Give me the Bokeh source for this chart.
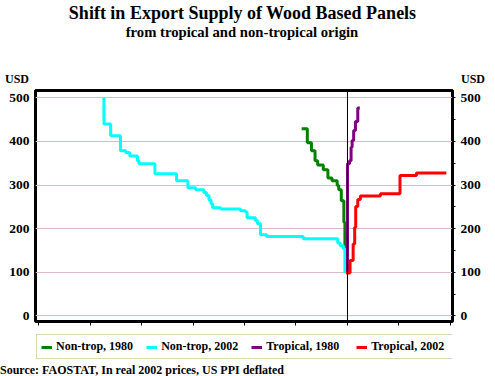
from bokeh.plotting import figure
from bokeh.models import (Range1d, LinearAxis, Span, Legend, LegendItem, FixedTicker, Div)
from bokeh.layouts import column
from bokeh.embed import file_html
from bokeh.resources import INLINE

# ---- data (quantity steps, USD price levels) ----
nontrop1980_x = [-0.89, -0.78, -0.70, -0.63, -0.58, -0.47, -0.38, -0.30, -0.20, -0.17, -0.12, -0.07, -0.05, -0.03]
nontrop1980_y = [429, 397, 379, 356, 346, 335, 316, 310, 299, 289, 264, 215, 160, 100]

nontrop2002_x = [-4.73, -4.73, -4.60, -4.41, -4.31, -4.23, -4.08, -4.05, -3.74, -3.32, -3.10, -2.95,
                 -2.79, -2.74, -2.69, -2.65, -2.62, -2.46, -2.08, -1.98, -1.95, -1.79, -1.75, -1.69,
                 -1.57, -0.86, -0.19, -0.14, -0.08, -0.05]
nontrop2002_y = [500, 440, 413, 379, 375, 367, 356, 349, 326, 310, 294, 289,
                 283, 276, 266, 257, 248, 245, 241, 238, 225, 219, 211, 186,
                 182, 177, 167, 161, 154, 98]

trop1980_x = [0.0, 0.0, 0.04, 0.07, 0.09, 0.12, 0.155, 0.20, 0.24]
trop1980_y = [100, 349, 356, 387, 402, 425, 446, 477, 477]

trop2002_x = [-0.03, 0.05, 0.11, 0.14, 0.16, 0.20, 0.25, 0.64, 1.02, 1.34, 1.92]
trop2002_y = [98, 127, 165, 203, 251, 267, 275, 280, 322, 328, 328]

series_names = ["Non-trop, 1980", "Non-trop, 2002", "Tropical, 1980", "Tropical, 2002"]
series_colors = ["#008000", "#00FFFF", "#800080", "#FF0000"]
series_x = [nontrop1980_x, nontrop2002_x, trop1980_x, trop2002_x]
series_y = [nontrop1980_y, nontrop2002_y, trop1980_y, trop2002_y]

title_text = "Shift in Export Supply of Wood Based Panels"
subtitle_text = "from tropical and non-tropical origin"
unit_text = "USD"
source_text = "Source: FAOSTAT, In real 2002 prices, US PPI deflated"

y_ticks = [0, 100, 200, 300, 400, 500]
x_ticks = [-6, -5, -4, -3, -2, -1, 0, 1, 2]

FONT = "Liberation Serif"
W = 495
BASE = ("position:absolute; white-space:nowrap; line-height:1; margin:0; padding:0; "
        "font-family:'Liberation Serif', serif; font-weight:bold; color:#000;")

# ---- header (title, subtitle, unit labels) ----
head_html = (
    f"<div style='position:relative; width:{W}px; height:86px; margin:0; padding:0;'>"
    f"<div style=\"{BASE} left:0; width:485px; text-align:center; top:4px; font-size:18px;\">{title_text}</div>"
    f"<div style=\"{BASE} left:0; width:484px; text-align:center; top:25px; font-size:14.7px;\">{subtitle_text}</div>"
    f"<div style=\"{BASE} left:5px; top:73px; font-size:12px;\">{unit_text}</div>"
    f"<div style=\"{BASE} left:461px; top:73px; font-size:12px;\">{unit_text}</div>"
    "</div>")
head = Div(text=head_html, width=W, height=86, margin=0)

# ---- main chart ----
p = figure(width=W, height=242, output_backend="svg", toolbar_location=None,
           x_range=Range1d(-6.06, 2.04), y_range=Range1d(-13, 517),
           min_border_left=35, min_border_right=43, min_border_top=4, min_border_bottom=7)
p.outline_line_color = "black"
p.outline_line_width = 3
p.background_fill_color = "white"
p.border_fill_color = "white"

p.xaxis.ticker = FixedTicker(ticks=x_ticks)
p.xaxis.major_label_overrides = {t: "" for t in x_ticks}
p.xaxis.major_tick_out = 4
p.xaxis.major_tick_in = 0
p.xaxis.minor_tick_out = 0
p.xaxis.axis_line_color = None
p.xaxis.major_tick_line_color = "black"
p.xaxis.major_tick_line_width = 1
p.xaxis.major_label_standoff = 0

p.yaxis.ticker = FixedTicker(ticks=y_ticks)
p.yaxis.major_tick_out = 0
p.yaxis.major_tick_in = 0
p.yaxis.minor_tick_out = 0
p.yaxis.axis_line_color = None
p.yaxis.major_label_standoff = 6
p.yaxis.major_label_text_font = FONT
p.yaxis.major_label_text_font_style = "bold"
p.yaxis.major_label_text_font_size = "13.5px"
p.yaxis.major_label_text_color = "black"

ry = LinearAxis(ticker=FixedTicker(ticks=y_ticks, minor_ticks=[50, 150, 250, 350, 450]))
ry.major_tick_out = 3
ry.major_tick_in = 0
ry.minor_tick_out = 3
ry.minor_tick_in = 0
ry.axis_line_color = None
ry.major_label_standoff = 5
ry.major_label_text_font = FONT
ry.major_label_text_font_style = "bold"
ry.major_label_text_font_size = "13.5px"
ry.major_label_text_color = "black"
p.add_layout(ry, "right")

p.xgrid.grid_line_color = None
p.ygrid.ticker = FixedTicker(ticks=y_ticks)
p.ygrid.grid_line_color = "#DDB9C6"
p.ygrid.grid_line_width = 1

p.add_layout(Span(location=0, dimension="height", line_color="black", line_width=1))

for xs, ys, c in zip(series_x, series_y, series_colors):
    p.step(xs, ys, mode="after", line_color=c, line_width=3)

# ---- legend strip ----
leg = figure(width=W, height=36, output_backend="svg", toolbar_location=None,
             x_axis_location=None, y_axis_location=None,
             x_range=Range1d(0, 1), y_range=Range1d(0, 1),
             min_border_left=35, min_border_right=43, min_border_top=0, min_border_bottom=0)
leg.grid.visible = False
leg.outline_line_color = None
leg.background_fill_color = "white"
leg.border_fill_color = "white"
# key renderers use the same series; the strip's ranges keep them out of view
key_renderers = [leg.step(xs, ys, mode="after", line_color=c, line_width=3)
                 for xs, ys, c in zip(series_x, series_y, series_colors)]
legend = Legend(items=[LegendItem(label=n, renderers=[r]) for n, r in zip(series_names, key_renderers)],
                orientation="horizontal", location=(1, 5),
                label_text_font=FONT, label_text_font_style="bold", label_text_font_size="12px",
                label_text_color="black",
                glyph_width=11, glyph_height=10, label_standoff=4, label_width=77, spacing=13,
                padding=4, margin=0, label_height=12,
                border_line_color="#A8BC5C", border_line_width=1.5,
                background_fill_color="white", background_fill_alpha=1)
leg.add_layout(legend, "center")

# ---- source note ----
foot_html = (f"<div style='position:relative; width:{W}px; height:12px; margin:0; padding:0;'>"
             f"<div style=\"{BASE} left:0; top:0; font-size:12px;\">{source_text}</div></div>")
foot = Div(text=foot_html, width=W, height=12, margin=0)

layout = column(head, p, leg, foot, spacing=0)
open("out.html", "w").write(file_html(layout, INLINE))
